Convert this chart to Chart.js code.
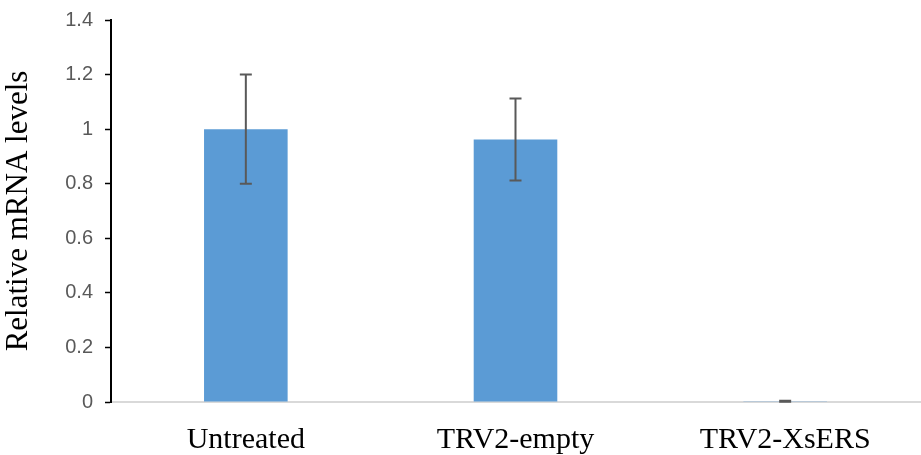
<!DOCTYPE html>
<html lang="en">
<head>
  <meta charset="UTF-8">
  <title>Relative mRNA levels</title>
  <style>
    html, body { margin: 0; padding: 0; background: #fff; }
    #wrap { width: 921px; height: 455px; position: relative; }
  </style>
</head>
<body>
  <div id="wrap"><canvas id="grafico"></canvas></div>

  <script src="https://cdn.jsdelivr.net/npm/chart.js"></script>
  <script>
    // dados
    const categorias = ["Untreated", "TRV2-empty", "TRV2-XsERS"];
    const valores = [1.0, 0.962, 0.003];
    const erros = [0.2, 0.15, 0.002];
    const yTicks = [0, 0.2, 0.4, 0.6, 0.8, 1, 1.2, 1.4];

    // plugin simples para as barras de erro
    const barrasErro = {
      id: 'barrasErro',
      afterDatasetsDraw(chart) {
        const ctx = chart.ctx;
        const y = chart.scales.y;
        const meta = chart.getDatasetMeta(0);
        ctx.save();
        ctx.strokeStyle = '#595959';
        ctx.lineWidth = 2;
        meta.data.forEach((bar, i) => {
          const x = bar.x;
          const topo = y.getPixelForValue(valores[i] + erros[i]);
          const base = y.getPixelForValue(valores[i] - erros[i]);
          ctx.beginPath();
          ctx.moveTo(x, topo); ctx.lineTo(x, base);
          ctx.moveTo(x - 6, topo); ctx.lineTo(x + 6, topo);
          ctx.moveTo(x - 6, base); ctx.lineTo(x + 6, base);
          ctx.stroke();
        });
        ctx.restore();
      }
    };

    const ctx = document.getElementById('grafico').getContext('2d');
    new Chart(ctx, {
      type: 'bar',
      data: {
        labels: categorias,
        datasets: [{
          data: valores,
          backgroundColor: '#5B9BD5',
          borderWidth: 0,
          categoryPercentage: 1,
          barPercentage: 0.31
        }]
      },
      options: {
        responsive: true,
        maintainAspectRatio: false,
        animation: false,
        layout: { padding: { top: 9, right: 1, left: 0, bottom: 0 } },
        plugins: { legend: { display: false }, tooltip: { enabled: false } },
        scales: {
          x: {
            grid: { display: false },
            border: { display: true, color: '#d9d9d9', width: 2 },
            ticks: { color: '#000', padding: 12, font: { family: 'Liberation Serif', size: 30 } },
            afterFit(s) { s.height = 53; }
          },
          y: {
            min: 0, max: 1.4,
            afterBuildTicks(s) { s.ticks = yTicks.map(v => ({ value: v })); },
            grid: { drawOnChartArea: false, tickLength: 6, color: '#000', tickWidth: 1.5 },
            border: { display: true, color: '#000', width: 2 },
            ticks: { color: '#595959', padding: 12, font: { family: 'Liberation Sans', size: 20, lineHeight: 0.8 },
                     callback: v => String(v) },
            title: { display: true, text: 'Relative mRNA levels', color: '#000', padding: { top: 0, bottom: 0 },
                     font: { family: 'Liberation Serif', size: 31 } },
            afterFit(s) { s.width = 111; }
          }
        }
      },
      plugins: [barrasErro]
    });
  </script>
</body>
</html>
